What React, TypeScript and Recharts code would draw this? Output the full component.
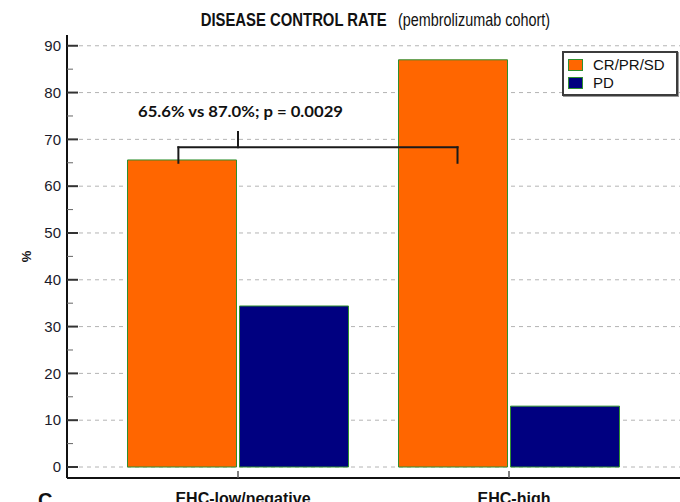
import {
  BarChart, Bar, XAxis, YAxis, CartesianGrid, Legend, ReferenceLine,
} from 'recharts'

const groups = ['EHC-low/negative', 'EHC-high']
const controlled = [65.6, 87.0] // CR/PR/SD
const progressed = [34.4, 13.0] // PD
const yTicks = [0, 5, 10, 15, 20, 25, 30, 35, 40, 45, 50, 55, 60, 65, 70, 75, 80, 85, 90]
const gridLines = [0, 10, 20, 30, 40, 50, 60, 70, 80, 90]

// comparison bracket over the CR/PR/SD bars, in (group position, %) units
const bracketEnds = [0.28, 1.31]
const bracketMid = 0.5
const bracketLevel = 68.3
const bracketFoot = 65.0
const bracketStem = 71.6
const comparisonText = '65.6% vs 87.0%; p = 0.0029'

const data = groups.map((name, i) => ({ name, slot: i, crprsd: controlled[i], pd: progressed[i] }))

const SANS = '"Liberation Sans", Arial, sans-serif'
const BAR_EDGE = '#2f8f2f'

function YTick({ x, y, payload }: any) {
  const v = payload.value
  const axisX = x + 6
  const major = v % 10 === 0
  return (
    <g>
      <line x1={axisX} x2={axisX + (major ? 11 : 6)} y1={y} y2={y}
        stroke={major ? '#333' : '#666'} strokeWidth={major ? 2 : 1} />
      {major && (
        <text x={x} y={y} dy={5.3} textAnchor="end" fontSize={15} fontFamily={SANS} fill="#1a1a2a">
          {v}
        </text>
      )}
    </g>
  )
}

function XTick({ x, y, payload }: any) {
  return (
    <g>
      <line x1={x} x2={x} y1={y} y2={y - 7} stroke="#555" strokeWidth={1.5} />
      <text x={x + 5} y={y + 26} textAnchor="middle" fontSize={16} fontWeight={700}
        fontFamily={SANS} fill="#111">
        {payload.value}
      </text>
    </g>
  )
}

function GridLine(props: any) {
  const { x1, x2, y1, y2 } = props
  return <line x1={x1 + 12} x2={x2} y1={y1} y2={y2} stroke="#b4b4b4" strokeWidth={1} strokeDasharray="4 4" />
}

function SeriesKey({ payload }: any) {
  return (
    <div style={{
      width: 116, height: 45, boxSizing: 'border-box', border: '2px solid #3c3c3c',
      boxShadow: '1px 1px 0 #9a9a9a', background: '#fff', position: 'relative',
      fontFamily: SANS, fontSize: 15, color: '#111',
    }}>
      {(payload || []).map((entry: any, i: number) => (
        <div key={i} style={{
          position: 'absolute', left: 4, top: 3 + i * 18, height: 17,
          display: 'flex', alignItems: 'center', whiteSpace: 'nowrap',
        }}>
          <span style={{
            display: 'inline-block', width: 15, height: 12, boxSizing: 'border-box',
            background: entry.color, border: `1px solid ${BAR_EDGE}`, marginRight: 10,
          }} />
          <span style={{ lineHeight: '17px' }}>{entry.value}</span>
        </div>
      ))}
    </div>
  )
}

function ComparisonLabel({ viewBox }: any) {
  return (
    <text x={viewBox.x + 2.5} y={viewBox.y - 14.7} textAnchor="middle" textLength={205}
      lengthAdjust="spacingAndGlyphs" fontFamily="Lato, 'Open Sans', sans-serif"
      fontWeight={700} fontSize={16} fill="#111">
      {comparisonText}
    </text>
  )
}

const bracketStroke = {
  xAxisId: 'pos', ifOverflow: 'visible' as const,
  stroke: '#1a1a1a', strokeWidth: 2, strokeLinecap: 'square' as const,
}

export default function App() {
  return (
    <div style={{ position: 'absolute', left: 0, top: 0, width: 680, height: 502, background: '#fff' }}>
      <BarChart
        width={680}
        height={502}
        data={data}
        margin={{ top: 35, right: 0, left: 0, bottom: 0 }}
        barCategoryGap={25}
        barGap={3}
        style={{ fontFamily: SANS }}
      >
        <text x={200.7} y={26} fontFamily={SANS} fontWeight={700} fontSize={18}
          textLength={186} lengthAdjust="spacingAndGlyphs" fill="#111">
          DISEASE CONTROL RATE
        </text>
        <text x={398} y={26} fontFamily={SANS} fontSize={17.5}
          textLength={152} lengthAdjust="spacingAndGlyphs" fill="#111">
          (pembrolizumab cohort)
        </text>
        <text x={38} y={507} fontFamily={SANS} fontWeight={700} fontSize={20} fill="#111">C</text>

        <CartesianGrid vertical={false} horizontalValues={gridLines} horizontal={GridLine} />
        <XAxis
          dataKey="name"
          height={24}
          padding={{ left: 35.5, right: 35.5 }}
          axisLine={{ stroke: '#111', strokeWidth: 2 }}
          tickLine={false}
          tickSize={0}
          tickMargin={0}
          tick={XTick}
          interval={0}
        />
        {/* numeric twin of the category axis: group i spans [i, i + 1] */}
        <XAxis
          xAxisId="pos"
          dataKey="slot"
          type="number"
          domain={[0, 2]}
          allowDataOverflow
          hide
          padding={{ left: 35.5, right: 35.5 }}
        />
        <YAxis
          width={67}
          domain={[-2.35, 92.3]}
          allowDataOverflow
          ticks={yTicks}
          interval={0}
          axisLine={{ stroke: '#111', strokeWidth: 2 }}
          tickLine={false}
          tickSize={0}
          tickMargin={6}
          tick={YTick}
          label={({ viewBox }: any) => (
            <text x={viewBox.x + 26} y={viewBox.y + viewBox.height / 2}
              transform={`rotate(-90, ${viewBox.x + 26}, ${viewBox.y + viewBox.height / 2})`}
              textAnchor="middle" dominantBaseline="central" fontFamily={SANS}
              fontWeight={700} fontSize={13} fill="#111">
              %
            </text>
          )}
        />
        <Legend
          layout="vertical"
          align="center"
          verticalAlign="middle"
          width={116}
          height={45}
          wrapperStyle={{ left: 562, top: 51 }}
          content={SeriesKey}
        />
        <Bar dataKey="crprsd" name="CR/PR/SD" fill="#ff6600" stroke={BAR_EDGE} strokeWidth={1} isAnimationActive={false} />
        <Bar dataKey="pd" name="PD" fill="#000080" stroke={BAR_EDGE} strokeWidth={1} isAnimationActive={false} />

        <ReferenceLine {...bracketStroke}
          segment={[{ x: bracketEnds[0], y: bracketLevel }, { x: bracketEnds[1], y: bracketLevel }]} />
        <ReferenceLine {...bracketStroke}
          segment={[{ x: bracketEnds[0], y: bracketLevel }, { x: bracketEnds[0], y: bracketFoot }]} />
        <ReferenceLine {...bracketStroke}
          segment={[{ x: bracketEnds[1], y: bracketLevel }, { x: bracketEnds[1], y: bracketFoot }]} />
        <ReferenceLine {...bracketStroke}
          segment={[{ x: bracketMid, y: bracketLevel }, { x: bracketMid, y: bracketStem }]}
          label={ComparisonLabel} />
      </BarChart>
    </div>
  )
}
